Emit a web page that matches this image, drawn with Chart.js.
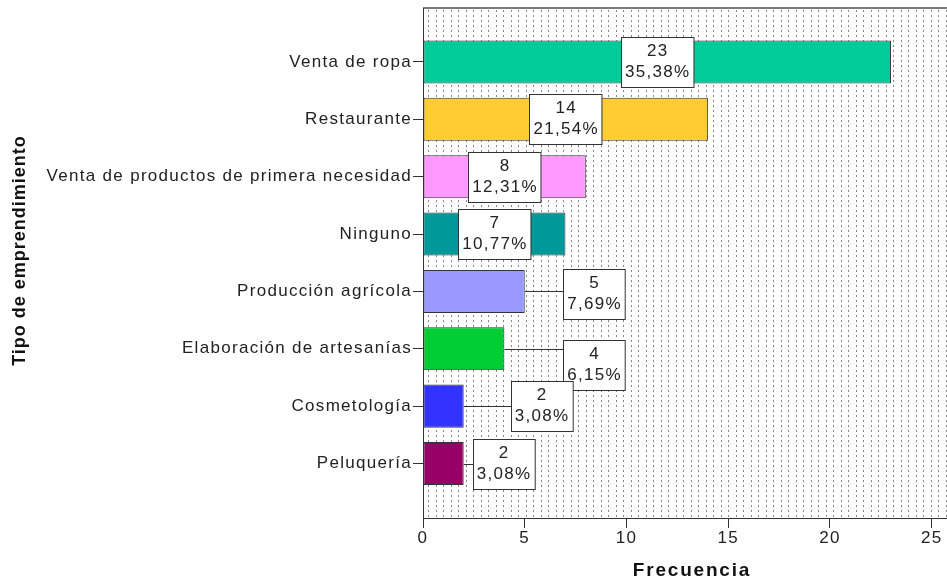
<!DOCTYPE html>
<html>
<head>
<meta charset="utf-8">
<script src="https://cdn.jsdelivr.net/npm/chart.js@4"></script>
<style>
  html, body { margin: 0; padding: 0; background: #fff; }
</style>
</head>
<body>
<canvas id="chart" width="947" height="582"></canvas>
<script>
const categories = [
  'Venta de ropa',
  'Restaurante',
  'Venta de productos de primera necesidad',
  'Ninguno',
  'Producción agrícola',
  'Elaboración de artesanías',
  'Cosmetología',
  'Peluquería'
];
const frequencies = [23, 14, 8, 7, 5, 4, 2, 2];
const barColors = ['#00cc99', '#ffcc33', '#ff99ff', '#009999', '#9999ff', '#00cc33', '#3333ff', '#990066'];
const xTicks = [0, 5, 10, 15, 20, 25];

// where the value boxes sit, in axis units (null = middle of the bar)
const boxAnchorX = [null, null, null, null, 8.4, 8.4, 5.82, 3.95];
const boxShiftY = [0, 0, 0, 0, 0.05, 0.29, 0, 0];

const total = frequencies.reduce((a, b) => a + b, 0);
const pct = v => (v / total * 100).toFixed(2).replace('.', ',') + '%';

const FONT = "'Liberation Sans', Arial, sans-serif";
const TEXT = '#222';
const LINE = '#333';
const SPACING = '1.3px';

function dotPattern(ctx) {
  const tile = document.createElement('canvas');
  tile.width = 15;
  tile.height = 5;
  const t = tile.getContext('2d');
  t.fillStyle = '#888';
  t.fillRect(0, 0, 1, 2);
  t.fillRect(8, 0, 1, 2);
  return ctx.createPattern(tile, 'repeat');
}

const spssLook = {
  id: 'spssLook',
  beforeDraw(chart) {
    const { ctx, chartArea: a } = chart;
    ctx.letterSpacing = SPACING;
    ctx.save();
    ctx.translate(a.left + 5, a.top + 2);
    ctx.fillStyle = dotPattern(ctx);
    ctx.fillRect(-5, -2, a.right - a.left, a.bottom - a.top);
    ctx.restore();
    ctx.save();
    ctx.strokeStyle = '#7a7a7a';
    ctx.lineWidth = 2;
    ctx.beginPath();
    ctx.moveTo(a.left, a.top);
    ctx.lineTo(a.right, a.top);
    ctx.stroke();
    ctx.restore();
  },
  afterDatasetsDraw(chart) {
    const { ctx } = chart;
    const xs = chart.scales.x, ys = chart.scales.y;
    const meta = chart.getDatasetMeta(0);
    ctx.save();
    ctx.font = `17px ${FONT}`;
    ctx.letterSpacing = SPACING;
    ctx.textAlign = 'center';
    ctx.textBaseline = 'middle';
    meta.data.forEach((bar, i) => {
      const v = frequencies[i];
      const lines = [String(v), pct(v)];
      const w = Math.max(...lines.map(s => ctx.measureText(s).width)) + 7;
      const h = 50;
      const cx = xs.getPixelForValue(boxAnchorX[i] ?? v / 2);
      const cy = ys.getPixelForValue(i + boxShiftY[i]);
      const left = Math.round(cx - w / 2) + 0.5;
      const top = Math.round(cy - h / 2) + 0.5;
      ctx.strokeStyle = LINE;
      ctx.lineWidth = 1;
      if (left > bar.x) {
        const ty = Math.min(Math.max(bar.y, top), top + h);
        ctx.beginPath();
        ctx.moveTo(bar.x, Math.round(bar.y) + 0.5);
        ctx.lineTo(left, Math.round(ty) + 0.5);
        ctx.stroke();
      }
      ctx.fillStyle = '#fff';
      ctx.fillRect(left, top, w, h);
      ctx.strokeRect(left, top, w, h);
      ctx.fillStyle = TEXT;
      ctx.fillText(lines[0], cx + 0.7, top + 14);
      ctx.fillText(lines[1], cx + 0.7, top + 35);
    });
    ctx.restore();
  },
  afterDraw(chart) {
    const { ctx } = chart;
    ctx.save();
    ctx.fillStyle = '#111';
    ctx.textAlign = 'center';
    ctx.textBaseline = 'middle';
    ctx.font = `bold 19px ${FONT}`;
    ctx.letterSpacing = '1.8px';
    ctx.fillText('Frecuencia', 692, 571);
    ctx.translate(20, 251);
    ctx.rotate(-Math.PI / 2);
    ctx.font = `bold 18px ${FONT}`;
    ctx.letterSpacing = '1px';
    ctx.fillText('Tipo de emprendimiento', 0.5, 0);
    ctx.restore();
  }
};

new Chart(document.getElementById('chart'), {
  type: 'bar',
  data: {
    datasets: [{
      data: frequencies.map((v, i) => ({ x: v, y: i })),
      backgroundColor: barColors,
      borderColor: LINE,
      borderWidth: 1,
      borderSkipped: false,
      barPercentage: 0.75,
      categoryPercentage: 1
    }]
  },
  options: {
    indexAxis: 'y',
    responsive: false,
    animation: false,
    devicePixelRatio: 1,
    layout: { padding: { top: 8, right: 0, bottom: 0, left: 0 } },
    plugins: { legend: { display: false }, tooltip: { enabled: false } },
    scales: {
      x: {
        type: 'linear',
        position: 'bottom',
        min: 0,
        max: 25.75,
        afterBuildTicks: s => { s.ticks = xTicks.map(value => ({ value })); },
        afterFit: s => { s.height = 64; s.paddingLeft = 0; s.paddingRight = 0; },
        grid: { drawOnChartArea: false, tickLength: 10, color: LINE },
        border: { color: LINE, width: 1 },
        ticks: { color: TEXT, font: { family: FONT, size: 17 }, padding: 0, maxRotation: 0 }
      },
      y: {
        type: 'linear',
        reverse: true,
        offset: false,
        min: -0.94,
        max: 7.95,
        afterBuildTicks: s => { s.ticks = categories.map((c, value) => ({ value })); },
        afterFit: s => { s.width = 423; s.paddingTop = 0; s.paddingBottom = 0; },
        grid: { drawOnChartArea: false, offset: false, tickLength: 10, color: LINE },
        border: { color: LINE, width: 1 },
        ticks: {
          color: TEXT,
          font: { family: FONT, size: 17 },
          padding: 1,
          autoSkip: false,
          callback: v => categories[v]
        }
      }
    }
  },
  plugins: [spssLook]
});
</script>
</body>
</html>
